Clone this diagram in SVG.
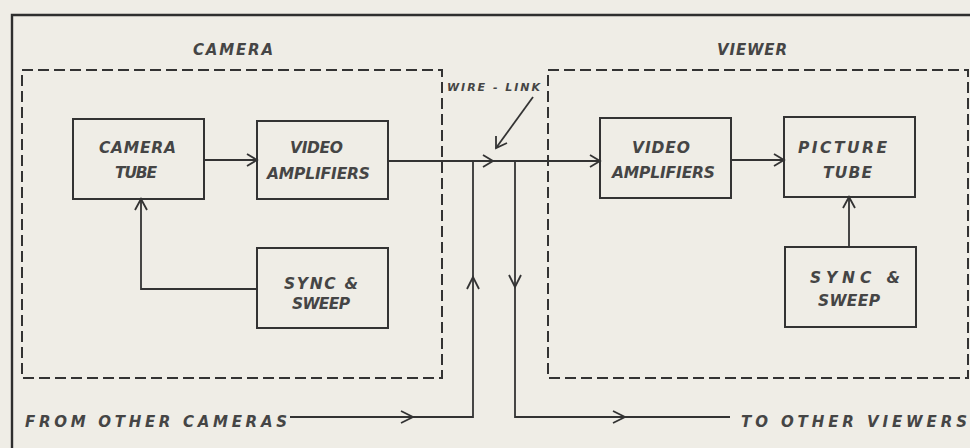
<svg xmlns="http://www.w3.org/2000/svg" width="970" height="448" viewBox="0 0 970 448">
<defs>
<style>
.bg{fill:#efede6}
.frame{fill:none;stroke:#2e2e2e;stroke-width:2.4}
.dash{fill:none;stroke:#333;stroke-width:2;stroke-dasharray:11 5}
.box{fill:none;stroke:#333;stroke-width:2}
.ln{fill:none;stroke:#333;stroke-width:1.8}
.hd{fill:none;stroke:#333;stroke-width:1.8;stroke-linejoin:miter}
text{font-family:"DejaVu Sans","Liberation Sans",sans-serif;font-style:italic;font-weight:bold;fill:#454545;text-anchor:start}
.t{font-size:15.5px}
.s{font-size:15px}
.w{font-size:11px}
</style>
</defs>
<rect class="bg" x="0" y="0" width="970" height="448"/>
<path class="frame" d="M12,448 V15 H970"/>

<g id="camera-group">
<rect class="dash" x="22" y="70" width="420" height="308"/>
<text class="s" x="193" y="55" textLength="80" lengthAdjust="spacing">CAMERA</text>
</g>
<g id="viewer-group">
<rect class="dash" x="548" y="70" width="420" height="308"/>
<text class="s" x="717" y="55" textLength="70" lengthAdjust="spacing">VIEWER</text>
</g>

<g id="camera-tube">
<rect class="box" x="73" y="119" width="131" height="80"/>
<text class="t" x="99" y="153" textLength="77" lengthAdjust="spacing">CAMERA</text>
<text class="t" x="115" y="178" textLength="42" lengthAdjust="spacing">TUBE</text>
</g>
<g id="cam-video-amp">
<rect class="box" x="257" y="121" width="131" height="78"/>
<text class="t" x="290" y="153" textLength="53" lengthAdjust="spacing">VIDEO</text>
<text class="t" x="267" y="179" textLength="103" lengthAdjust="spacing">AMPLIFIERS</text>
</g>
<g id="cam-sync">
<rect class="box" x="257" y="248" width="131" height="80"/>
<text class="t" x="284" y="289" textLength="74" lengthAdjust="spacing">SYNC &amp;</text>
<text class="t" x="292" y="309" textLength="58" lengthAdjust="spacing">SWEEP</text>
</g>

<g id="view-video-amp">
<rect class="box" x="600" y="118" width="131" height="80"/>
<text class="t" x="632" y="153" textLength="58" lengthAdjust="spacing">VIDEO</text>
<text class="t" x="612" y="178" textLength="103" lengthAdjust="spacing">AMPLIFIERS</text>
</g>
<g id="picture-tube">
<rect class="box" x="784" y="117" width="131" height="80"/>
<text class="t" x="798" y="153" textLength="89" lengthAdjust="spacing">PICTURE</text>
<text class="t" x="823" y="178" textLength="49" lengthAdjust="spacing">TUBE</text>
</g>
<g id="view-sync">
<rect class="box" x="785" y="247" width="131" height="80"/>
<text class="t" x="810" y="283" textLength="90" lengthAdjust="spacing">SYNC &amp;</text>
<text class="t" x="818" y="306" textLength="62" lengthAdjust="spacing">SWEEP</text>
</g>

<g id="labels">
<text class="w" x="447" y="91" textLength="93" lengthAdjust="spacing">WIRE - LINK</text>
<text class="s" x="25" y="427" textLength="262" lengthAdjust="spacing">FROM OTHER CAMERAS</text>
<text class="s" x="741" y="427" textLength="226" lengthAdjust="spacing">TO OTHER VIEWERS</text>
</g>

<g id="connectors">
<path class="ln" d="M204,160 H257"/>
<path class="hd" d="M247,154 L257,160 L247,166"/>
<path class="ln" d="M388,161 H600"/>
<path class="hd" d="M483,155 L493,161 L483,167"/>
<path class="hd" d="M590,155 L600,161 L590,167"/>
<path class="ln" d="M473,161 V417 H290"/>
<path class="hd" d="M467,289 L473,277 L479,289"/>
<path class="hd" d="M401,411 L413,417 L401,423"/>
<path class="ln" d="M515,161 V417 H730"/>
<path class="hd" d="M509,275 L515,287 L521,275"/>
<path class="hd" d="M613,411 L625,417 L613,423"/>
<path class="ln" d="M731,160 H784"/>
<path class="hd" d="M774,154 L784,160 L774,166"/>
<path class="ln" d="M849,247 V197"/>
<path class="hd" d="M843,208 L849,197 L855,208"/>
<path class="ln" d="M257,289 H141 V199"/>
<path class="hd" d="M135,210 L141,199 L147,210"/>
<path class="ln" d="M533,97 L496,148"/>
<path class="hd" d="M496,136 L496,148 L507,143"/>
</g>
</svg>
